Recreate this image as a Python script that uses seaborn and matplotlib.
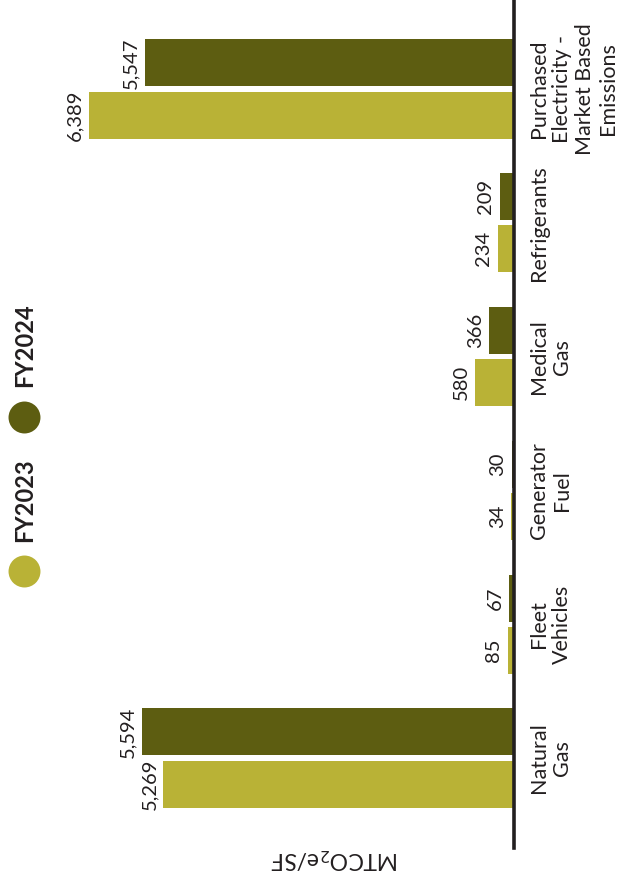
import matplotlib
matplotlib.use("Agg")
import matplotlib.pyplot as plt
from matplotlib.lines import Line2D
import seaborn as sns
import pandas as pd

# Emission sources and their values per fiscal year
categories = ["Natural\nGas", "Fleet\nVehicles", "Generator\nFuel", "Medical\nGas",
              "Refrigerants", "Purchased\nElectricity -\nMarket Based\nEmissions"]
fy2023 = [5269, 85, 34, 580, 234, 6389]
fy2024 = [5594, 67, 30, 366, 209, 5547]
years = ["FY2023", "FY2024"]
colors = {"FY2023": "#b9b236", "FY2024": "#5d5d11"}
text_color = "#231f20"

df = pd.DataFrame({
    "source": categories * 2,
    "value": fy2023 + fy2024,
    "year": [years[0]] * len(categories) + [years[1]] * len(categories),
})

sns.set_style("white")
plt.rcParams["font.family"] = ["Lato", "DejaVu Sans"]

fig = plt.figure(figsize=(6.22, 8.83), dpi=100)
W, H = 622, 883
left_px, right_px, top_px, bottom_px = 62, 513.5, 0, 848
ax = fig.add_axes([left_px / W, 1 - bottom_px / H,
                   (right_px - left_px) / W, (bottom_px - top_px) / H])

sns.barplot(data=df, y="source", x="value", hue="year", order=categories,
            hue_order=years, palette=colors, saturation=1, orient="h",
            width=0.78, gap=0.1, linewidth=0, legend=False, ax=ax)

units_per_px = 15.05
ax.set_xlim((right_px - left_px) * units_per_px, 0)
ax.set_ylim(-0.673, 5.665)

# value labels next to each bar end
for container, year in zip(ax.containers, years):
    vals = fy2023 if year == "FY2023" else fy2024
    for bar, v in zip(container, vals):
        yc = bar.get_y() + bar.get_height() / 2
        ax.annotate(f"{v:,.0f}", xy=(v, yc), xytext=(-4, 0),
                    textcoords="offset points", rotation=90,
                    ha="right", va="center", fontsize=14.5, color=text_color)

# category axis on the right with rotated labels
for s in ["left", "top", "bottom"]:
    ax.spines[s].set_visible(False)
ax.spines["right"].set_visible(True)
ax.spines["right"].set_color(text_color)
ax.spines["right"].set_linewidth(2.6)
ax.yaxis.tick_right()
ax.set_yticks(range(len(categories)))
ax.set_yticklabels(categories, rotation=90, ha="left", va="center",
                   multialignment="center", fontsize=15.5, color=text_color,
                   linespacing=1.2)
ax.tick_params(axis="y", length=0, pad=11)
ax.set_xticks([])
ax.set_xlabel("")
ax.set_ylabel("")

# value axis title
fig.text(335 / W, 1 - 858 / H, "MTCO$_2$e/SF", rotation=180, ha="center",
         va="center", fontsize=16.5, color=text_color)

# legend drawn vertically along the left edge
for yc_px, ty_px, year in [(571, 500, "FY2023"), (417, 345, "FY2024")]:
    fig.add_artist(Line2D([24 / W], [1 - yc_px / H], marker="o", markersize=23,
                          markerfacecolor=colors[year], markeredgewidth=0,
                          linestyle="none", transform=fig.transFigure))
    fig.text(25 / W, 1 - ty_px / H, year, rotation=90, ha="center", va="center",
             fontsize=17, fontweight="bold", color=text_color)

fig.savefig("out.png", dpi=100)
